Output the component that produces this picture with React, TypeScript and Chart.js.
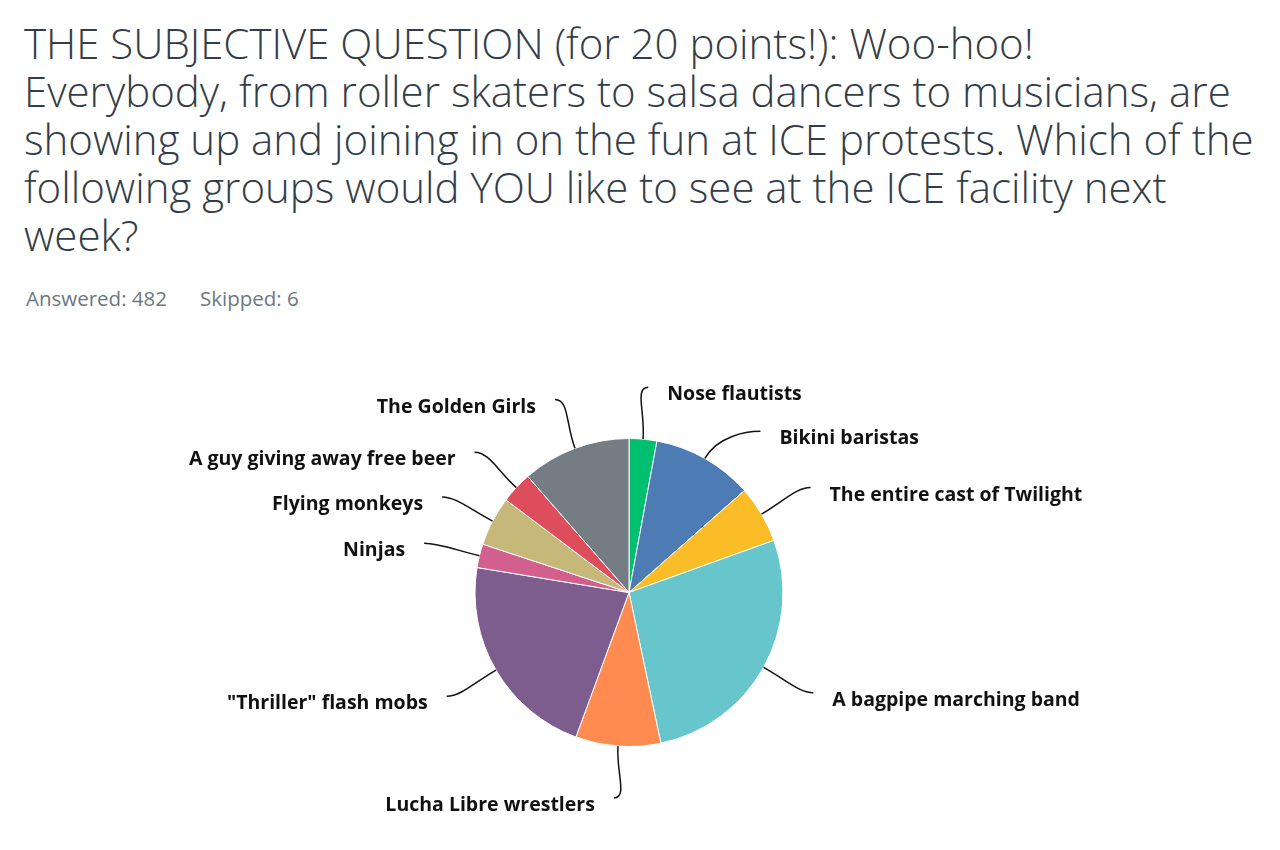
import React, { useEffect, useRef } from "react";
import { Chart, registerables } from "chart.js";

Chart.register(...registerables);

const titleLines = [
  "THE SUBJECTIVE QUESTION (for 20 points!): Woo-hoo!",
  "Everybody, from roller skaters to salsa dancers to musicians, are",
  "showing up and joining in on the fun at ICE protests. Which of the",
  "following groups would YOU like to see at the ICE facility next",
  "week?",
];

const answered = 482;
const skipped = 6;

const categories = [
  "Nose flautists",
  "Bikini baristas",
  "The entire cast of Twilight",
  "A bagpipe marching band",
  "Lucha Libre wrestlers",
  "\"Thriller\" flash mobs",
  "Ninjas",
  "Flying monkeys",
  "A guy giving away free beer",
  "The Golden Girls",
];

const responses = [14, 51, 29, 131, 43, 106, 12, 25, 16, 55];

const colors = [
  "#00BF6F",
  "#4D7BB4",
  "#FBBD27",
  "#66C6CC",
  "#FF8B50",
  "#7D5D8D",
  "#D35F8F",
  "#C6B878",
  "#DE4D5B",
  "#757D84",
];

const labelPlugin = {
  id: "pieLabels",
  afterDatasetsDraw(chart: any) {
    const meta = chart.getDatasetMeta(0);
    const ctx = chart.ctx as CanvasRenderingContext2D;
    const labels = chart.data.labels as string[];
    const items = meta.data.map((arc: any, i: number) => {
      const p = arc.getProps(["x", "y", "startAngle", "endAngle", "outerRadius"], true);
      const mid = (p.startAngle + p.endAngle) / 2;
      const Ry = p.outerRadius + 52;
      const Rx = p.outerRadius + 57;
      return {
        i,
        mid,
        cx: p.x,
        cy: p.y,
        Rx,
        Ry,
        sx: p.x + Math.cos(mid) * p.outerRadius,
        sy: p.y + Math.sin(mid) * p.outerRadius,
        ey: p.y + Math.sin(mid) * Ry,
        ex: 0,
        right: Math.cos(mid) >= 0,
      };
    });
    const MIN = 44;
    [true, false].forEach((side) => {
      const group = items.filter((it: any) => it.right === side).sort((a: any, b: any) => a.ey - b.ey);
      for (let k = 1; k < group.length; k++) {
        if (group[k].ey < group[k - 1].ey + MIN) group[k].ey = group[k - 1].ey + MIN;
      }
    });
    items.forEach((it: any) => {
      const t = (it.ey - it.cy) / it.Ry;
      const dx = it.Rx * Math.sqrt(Math.max(1 - t * t, 0));
      it.ex = it.cx + (it.right ? dx : -dx);
    });
    ctx.save();
    ctx.strokeStyle = "#111111";
    ctx.lineWidth = 1.5;
    ctx.fillStyle = "#111111";
    ctx.font = "700 19.5px 'Open Sans', Lato, sans-serif";
    ctx.textBaseline = "middle";
    items.forEach((it: any) => {
      const dir = it.right ? 1 : -1;
      const c1x = it.sx + Math.cos(it.mid) * 26;
      const c1y = it.sy + Math.sin(it.mid) * 26;
      const c2x = it.ex - dir * 14;
      const c2y = it.ey;
      ctx.beginPath();
      ctx.moveTo(it.sx, it.sy);
      ctx.bezierCurveTo(c1x, c1y, c2x, c2y, it.ex, it.ey);
      ctx.stroke();
      ctx.textAlign = it.right ? "left" : "right";
      ctx.fillText(labels[it.i], it.ex + dir * 19, it.ey + 7.5);
    });
    ctx.restore();
  },
};

export default function App() {
  const canvasRef = useRef<HTMLCanvasElement | null>(null);

  useEffect(() => {
    if (!canvasRef.current) return;
    const chart = new Chart(canvasRef.current, {
      type: "pie",
      data: {
        labels: categories,
        datasets: [
          {
            data: responses,
            backgroundColor: colors,
            borderColor: "#ffffff",
            borderWidth: 1,
            hoverOffset: 0,
            offset: 0,
          },
        ],
      },
      options: {
        animation: false,
        responsive: false,
        maintainAspectRatio: false,
        layout: { padding: { top: 108, bottom: 83, left: 0, right: 22 } },
        plugins: {
          legend: { display: false },
          tooltip: { enabled: false },
        },
      },
      plugins: [labelPlugin],
    });
    return () => chart.destroy();
  }, []);

  return (
    <div style={{ position: "relative", width: 1264, height: 834, overflow: "hidden", background: "#fff" }}>
      <div
        style={{
          position: "absolute",
          left: 16,
          top: 11,
          fontFamily: "'Open Sans', sans-serif",
          fontWeight: 300,
          fontSize: 42,
          lineHeight: "48px",
          color: "#333E48",
          whiteSpace: "nowrap",
        }}
      >
        {titleLines.map((l, i) => (
          <div key={i}>{l}</div>
        ))}
      </div>
      <div
        style={{
          position: "absolute",
          left: 18,
          top: 278,
          fontFamily: "'Open Sans', sans-serif",
          fontSize: 20.5,
          lineHeight: "24px",
          color: "#6B7880",
          whiteSpace: "nowrap",
        }}
      >
        <span>Answered: {answered}</span>
        <span style={{ marginLeft: 33 }}>Skipped: {skipped}</span>
      </div>
      <canvas
        ref={canvasRef}
        width={1264}
        height={500}
        style={{ position: "absolute", left: 0, top: 322, width: 1264, height: 500 }}
      />
    </div>
  );
}
